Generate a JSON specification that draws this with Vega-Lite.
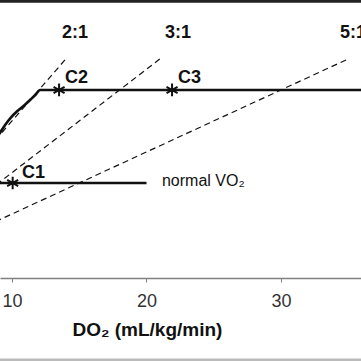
{
  "$schema": "https://vega.github.io/schema/vega-lite/v6.json",
  "width": 361,
  "height": 361,
  "autosize": "none",
  "padding": 0,
  "background": "white",
  "config": {"view": {"stroke": null}, "font": "Liberation Sans"},
  "datasets": {
    "ratios": [
      {"ratio": "2:1", "DO2": 0, "VO2": 0}, {"ratio": "2:1", "DO2": 14, "VO2": 7},
      {"ratio": "3:1", "DO2": 0, "VO2": 0}, {"ratio": "3:1", "DO2": 21, "VO2": 7},
      {"ratio": "5:1", "DO2": 0, "VO2": 0}, {"ratio": "5:1", "DO2": 35, "VO2": 7}
    ],
    "solid": [
      {"s": "normal", "DO2": 5, "VO2": 3}, {"s": "normal", "DO2": 20, "VO2": 3},
      {"s": "c23", "DO2": 8.8, "VO2": 4.4},
      {"s": "c23", "DO2": 9.11, "VO2": 4.62},
      {"s": "c23", "DO2": 9.5, "VO2": 4.88},
      {"s": "c23", "DO2": 9.9, "VO2": 5.1},
      {"s": "c23", "DO2": 10.4, "VO2": 5.32},
      {"s": "c23", "DO2": 10.9, "VO2": 5.5},
      {"s": "c23", "DO2": 11.4, "VO2": 5.7},
      {"s": "c23", "DO2": 11.8, "VO2": 5.87},
      {"s": "c23", "DO2": 12.08, "VO2": 6.0},
      {"s": "c23", "DO2": 40, "VO2": 6.0}
    ],
    "stars": [
      {"label": "C1", "DO2": 10.05, "VO2": 3.0, "lx": 10.74, "ly": 3.32},
      {"label": "C2", "DO2": 13.5, "VO2": 6.0, "lx": 13.94, "ly": 6.4},
      {"label": "C3", "DO2": 21.9, "VO2": 6.0, "lx": 22.34, "ly": 6.4}
    ],
    "ratioLabels": [
      {"label": "2:1", "DO2": 13.72, "VO2": 7.84},
      {"label": "3:1", "DO2": 21.38, "VO2": 7.84},
      {"label": "5:1", "DO2": 34.39, "VO2": 7.84}
    ],
    "notes": [{"label": "normal VO₂", "DO2": 21.15, "VO2": 3.06}],
    "borders": [
      {"b": "top", "DO2": 9.108, "x2": 35.948, "VO2": 8.86},
      {"b": "bottom", "DO2": 9.108, "x2": 35.948, "VO2": -2.71}
    ]
  },
  "encoding": {
    "x": {
      "field": "DO2", "type": "quantitative",
      "scale": {"domain": [9.108, 35.948], "nice": false, "zero": false},
      "axis": {
        "values": [10, 20, 30], "offset": -83, "grid": false,
        "domainColor": "#808080", "domainWidth": 1.5,
        "tickColor": "#808080", "tickSize": 4, "tickWidth": 1,
        "labelFontSize": 18, "labelColor": "#333", "labelPadding": 10, "labelFont": "Liberation Sans",
        "title": "DO₂ (mL/kg/min)", "titleFontSize": 19, "titleFontWeight": "bold", "titleColor": "#111",
        "titleFont": "Liberation Sans",
        "titleX": 72, "titleY": 57, "titleAlign": "left", "titleAnchor": null, "titleBaseline": "alphabetic"
      }
    },
    "y": {
      "field": "VO2", "type": "quantitative",
      "scale": {"domain": [-2.74, 8.9], "nice": false, "zero": false},
      "axis": null
    }
  },
  "layer": [
    {
      "data": {"name": "ratios"},
      "mark": {"type": "line", "clip": true, "color": "#111", "strokeWidth": 1.2, "strokeDash": [6, 4]},
      "encoding": {"detail": {"field": "ratio"}}
    },
    {
      "data": {"name": "solid"},
      "mark": {"type": "line", "clip": true, "color": "#111", "strokeWidth": 2.6, "interpolate": "monotone"},
      "encoding": {"detail": {"field": "s"}}
    },
    {
      "data": {"name": "stars"},
      "mark": {"type": "point", "shape": "M0,-1L0,1M-0.87,-0.5L0.87,0.5M-0.87,0.5L0.87,-0.5", "filled": false, "stroke": "#111", "strokeWidth": 2, "size": 160, "opacity": 1}
    },
    {
      "data": {"name": "stars"},
      "mark": {"type": "text", "align": "left", "baseline": "middle", "fontSize": 18, "fontWeight": "bold", "color": "#111", "font": "Liberation Sans"},
      "encoding": {
        "x": {"field": "lx", "type": "quantitative"},
        "y": {"field": "ly", "type": "quantitative"},
        "text": {"field": "label"}
      }
    },
    {
      "data": {"name": "ratioLabels"},
      "mark": {"type": "text", "align": "left", "baseline": "middle", "fontSize": 18, "fontWeight": "bold", "color": "#111", "font": "Liberation Sans"},
      "encoding": {"text": {"field": "label"}}
    },
    {
      "data": {"name": "notes"},
      "mark": {"type": "text", "align": "left", "baseline": "middle", "fontSize": 16, "color": "#111", "font": "Liberation Sans"},
      "encoding": {"text": {"field": "label"}}
    },
    {
      "data": {"name": "borders"},
      "mark": {"type": "rule", "strokeWidth": 3},
      "encoding": {
        "x2": {"field": "x2"},
        "color": {"field": "b", "type": "nominal", "scale": {"domain": ["top", "bottom"], "range": ["#222222", "#bbbbbb"]}, "legend": null}
      }
    }
  ]
}
